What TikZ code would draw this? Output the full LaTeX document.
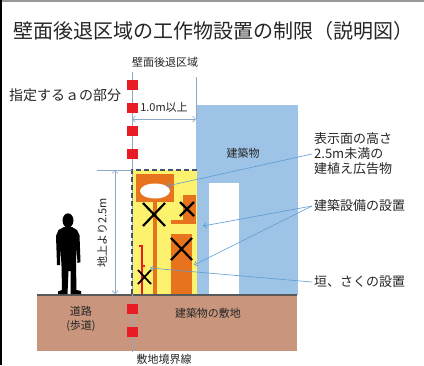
\documentclass[tikz,border=0pt]{standalone}
\usepackage{fontspec}
\setmainfont{Noto Sans CJK JP}
\usetikzlibrary{arrows.meta}

\definecolor{bldblue}{HTML}{9DC3E6}
\definecolor{zoneyel}{HTML}{FDF26E}
\definecolor{signorg}{HTML}{E8731E}
\definecolor{soil}{HTML}{C9957C}
\definecolor{markred}{HTML}{E81C24}
\definecolor{dimline}{HTML}{8EA9C8}
\definecolor{callblue}{HTML}{5B9BD5}
\definecolor{edge}{HTML}{44546A}
\definecolor{ground}{HTML}{595959}

\tikzset{
  lbl/.style={inner sep=1pt, font=\fontsize{11}{13}\selectfont, text=black!85},
  biglbl/.style={inner sep=2pt, anchor=west, align=left, font=\fontsize{13}{15}\selectfont, text=black!85},
  dimarrow/.style={draw=dimline, line width=0.7pt, {Straight Barb[length=3pt,width=6pt]}-{Straight Barb[length=3pt,width=6pt]}},
  callout/.style={draw=callblue, line width=0.6pt, -{Straight Barb[length=3pt,width=5pt]}},
  xmark/.style={draw=black, line width=2.2pt},
  redsq/.style={fill=markred, draw=none, minimum size=10.5pt, inner sep=0pt},
}

\begin{document}
\begin{tikzpicture}[x=1pt,y=-1pt]
\useasboundingbox (0,0) rectangle (424,365);
\fill[white] (0,0) rectangle (424,365);

% frame edges
\draw[gray!80, line width=2pt] (0,1) -- (424,1);
\draw[black, line width=2pt] (1,0) -- (1,365);

% title
\node[anchor=west, inner sep=0pt, font=\fontsize{20}{24}\selectfont, text=black!85] (title) at (13,31) {壁面後退区域の工作物設置の制限（説明図）};

% soil
\fill[soil] (37,296) rectangle (297,351);

% building with its opening
\fill[bldblue] (196,105) rectangle (298,295);
\fill[white] (209,183) rectangle (239,295);

% restricted zone
\fill[zoneyel] (132,170) rectangle (197,295);

% advertising sign: panel, face and pole
\fill[signorg] (136,174) rectangle (174,202);
\fill[white] (155,191) ellipse (15 and 7.5);
\fill[signorg] (153,202) rectangle (157,295);
\draw[xmark] (143,203) -- (165,226) (165,203) -- (143,226);

% building equipment (small unit and its bracket)
\fill[signorg] (183,195) rectangle (196,223);
\fill[signorg] (171,220) rectangle (196,224);
\draw[xmark] (180,202) -- (194,216) (194,202) -- (180,216);

% building equipment (tall unit)
\fill[signorg] (171,234) rectangle (192,295);
\draw[xmark] (171,238) -- (192,260) (192,238) -- (171,260);

% fence
\draw[markred, line width=1.2pt] (139,246) -- (142,246) -- (142,295);
\fill[markred] (144,266) circle (1.3);
\fill[markred] (142,278) circle (1.3);
\draw[xmark, line width=1.8pt] (138,270) -- (151,284) (151,270) -- (138,284);

% ground line
\draw[ground, line width=2pt] (37,295) -- (297,295);

% site boundary and setback line
\draw[dimline, line width=0.7pt] (132,72) -- (132,352);
\draw[dimline, line width=0.7pt] (196,77) -- (196,119);

% zone outline
\draw[edge, line width=1.5pt, dash pattern=on 5pt off 3pt] (197,170) -- (132,170) -- (132,295);

% boundary markers
\foreach \yy [count=\i] in {85,108,131,154,309,332}
  \node[redsq] (m\i) at (132.5,\yy) {};

% setback dimension
\coordinate (sbL) at (132,119);
\coordinate (sbR) at (196,119);
\draw[dimarrow] (sbL) -- (sbR);
\node[lbl] (sbtxt) at (164,107) {1.0m以上};

% height dimension
\coordinate (hExt) at (97,170);
\coordinate (hTop) at (115,170);
\coordinate (hBot) at (115,294);
\draw[dimline, line width=0.7pt] (hExt) -- (132,170);
\draw[dimarrow] (hTop) -- (hBot);
\node[lbl, rotate=90] (htxt) at (102,233) {地上より2.5m};

% person
\fill[black] (68,220.5) ellipse (5.5 and 7.2);
\fill[black] (64,227) -- (72,227) -- (77,230) -- (79.5,235) -- (80.5,262) -- (77.5,263)
  -- (76.5,246) -- (76,266) -- (76.5,290) -- (81,291) -- (81,294) -- (70.5,294)
  -- (70.5,271) -- (68.5,271) -- (67.5,294) -- (58,294) -- (58,291.5) -- (62,290)
  -- (61.5,266) -- (60.5,247) -- (60,265) -- (57,265) -- (56,236) -- (58.5,230) -- cycle;

% labels
\node[lbl] (zonetxt) at (165,62) {壁面後退区域};
\node[inner sep=1pt, anchor=west, font=\fontsize{14}{16}\selectfont, text=black!85] (atxt) at (8,95) {指定するａの部分};
\node[lbl] (bldtxt) at (243,153) {建築物};
\node[lbl, align=center, font=\fontsize{11}{14}\selectfont] (road) at (81,319) {道路\\(歩道)};
\node[lbl] (site) at (208,313) {建築物の敷地};
\node[lbl] (bound) at (164,359) {敷地境界線};

% callouts
\node[biglbl] (signtxt) at (312,154) {表示面の高さ\\2.5m未満の\\建植え広告物};
\node[biglbl] (equiptxt) at (312,206) {建築設備の設置};
\node[biglbl] (fencetxt) at (312,282) {垣、さくの設置};

\coordinate (signpt) at (167,186);
\coordinate (eqA) at (203,226);
\coordinate (eqB) at (194,265);
\coordinate (fencept) at (150,268);

\draw[callout] (signtxt.west) -- (signpt);
\draw[callout] (equiptxt.west) -- (eqA);
\draw[callout] (equiptxt.west) -- (eqB);
\draw[callout] (fencetxt.west) -- (fencept);

\end{tikzpicture}
\end{document}
